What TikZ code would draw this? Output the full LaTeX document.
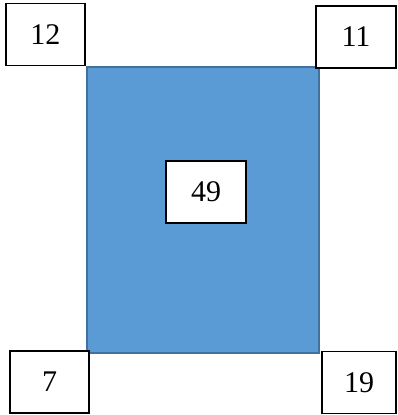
\documentclass[tikz,border=0pt]{standalone}
\usepackage{fontspec}
\setmainfont{Liberation Serif}
\usepackage{tikz}

\definecolor{areafill}{HTML}{5B9BD5}
\definecolor{areaedge}{HTML}{41719C}

\begin{document}
\begin{tikzpicture}[x=1pt, y=-1pt,
    numbox/.style={draw=black, line width=1.3pt, fill=white, inner sep=0pt,
        font=\fontsize{30}{34}\selectfont}]
            \useasboundingbox (0,0) rectangle (398,415);

            % Blue area
            \draw[fill=areafill, draw=areaedge, line width=1.5pt] (87,67) rectangle (319,353);

            % Corner numbers
            \node[numbox, minimum width=79pt, minimum height=62pt] (tl) at (45.5,34.5) {12};
            \node[numbox, minimum width=80pt, minimum height=62pt] (tr) at (356,37) {11};
            \node[numbox, minimum width=79pt, minimum height=62pt] (bl) at (49.5,382) {7\hspace{24pt}};
            \node[numbox, minimum width=74pt, minimum height=62pt] (br) at (359,382.5) {19};

            % Middle number
            \node[numbox, minimum width=80pt, minimum height=62pt] (mid) at (206,192) {49};
        \end{tikzpicture}
\end{document}
